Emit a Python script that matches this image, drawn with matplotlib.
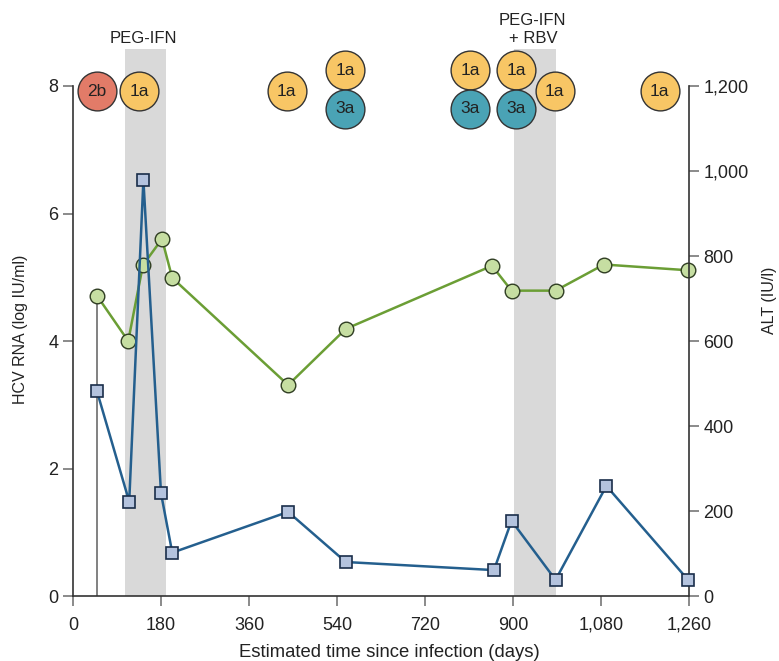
import matplotlib.pyplot as plt
from matplotlib.patches import Rectangle

plt.rcParams['font.family'] = ['Liberation Sans', 'DejaVu Sans']

# HCV RNA (log IU/ml), left axis
days_rna = [50, 113, 143, 182, 203, 440, 558, 857, 897, 987, 1086, 1257]
rna = [4.70, 4.00, 5.19, 5.60, 4.99, 3.31, 4.19, 5.18, 4.79, 4.79, 5.20, 5.11]

# ALT (IU/l), right axis
days_alt = [49, 115, 144, 180, 203, 440, 558, 861, 897, 987, 1091, 1258]
alt = [482, 222, 979, 242, 102, 198, 80, 61, 177, 38, 259, 38]

# treatment windows (days)
treat_start = [106, 901]
treat_end = [191, 988]
treat_names = ['PEG-IFN', 'PEG-IFN\n+ RBV']

# genotype bubbles: day, height on the RNA scale, label
geno_day = [48.5, 135, 437, 557, 557, 813, 813, 907, 907, 985, 1200]
geno_y = [7.92, 7.92, 7.92, 8.25, 7.64, 8.25, 7.64, 8.25, 7.64, 7.92, 7.92]
geno_lab = ['2b', '1a', '1a', '1a', '3a', '1a', '3a', '1a', '3a', '1a', '1a']
geno_col = {'1a': '#f8c665', '3a': '#4aa3b5', '2b': '#e27b68'}

fig = plt.figure(figsize=(7.79, 6.61), dpi=100)
ax = fig.add_axes([0.0937, 0.0983, 0.7908, 0.7716])
ax2 = ax.twinx()

ax.set_xlim(0, 1260)
ax.set_ylim(0, 8)
ax2.set_ylim(0, 1200)

for s, e in zip(treat_start, treat_end):
    ax.add_patch(Rectangle((s, 0), e - s, 8.58, facecolor='#d9d9d9',
                           edgecolor='none', clip_on=False, zorder=0))
for s, e, n in zip(treat_start, treat_end, treat_names):
    ax.text((s + e) / 2 - 4, 8.63, n, ha='center', va='bottom', fontsize=12,
            color='#222222', linespacing=1.2)

ax.vlines(days_rna[0], 0, rna[0], color='#777777', lw=1.3, zorder=1)

ax.plot(days_rna, rna, color='#6b9e35', lw=1.8, marker='o', ms=10.5,
        mfc='#c6dea2', mec='#2f3d22', mew=1.0, zorder=3, clip_on=False)
ax2.plot(days_alt, alt, color='#245f8e', lw=1.8, marker='s', ms=8.5,
         mfc='#b4c3de', mec='#1a2e4a', mew=1.2, zorder=3, clip_on=False)

for d, y, lab in zip(geno_day, geno_y, geno_lab):
    ax2.scatter([d], [y * 150], s=780, color=geno_col[lab], edgecolor='#333333',
                linewidth=1.0, clip_on=False, zorder=5)
    ax2.text(d, y * 150, lab, ha='center', va='center', fontsize=12.5,
             color='#222222', zorder=6, clip_on=False)

ticks_x = [0, 180, 360, 540, 720, 900, 1080, 1260]
ax.set_xticks(ticks_x)
ax.set_xticklabels(['0', '180', '360', '540', '720', '900', '1,080', '1,260'])
ax.set_yticks([0, 2, 4, 6, 8])
ax2.set_yticks([0, 200, 400, 600, 800, 1000, 1200])
ax2.set_yticklabels(['0', '200', '400', '600', '800', '1,000', '1,200'])

for a in (ax, ax2):
    a.spines['top'].set_visible(False)
    for sp in a.spines.values():
        sp.set_color('#333333')
        sp.set_linewidth(1.2)
    a.tick_params(direction='out', length=7, width=1.2, color='#777777',
                  labelsize=13, labelcolor='#222222')
ax.tick_params(axis='x', pad=8)
ax.spines['right'].set_visible(False)
ax2.spines['left'].set_visible(False)
ax2.spines['bottom'].set_visible(False)

ax.set_xlabel('Estimated time since infection (days)', fontsize=13.3, color='#222222', va='center')
ax.xaxis.set_label_coords(0.513, -0.11)
ax.set_ylabel('HCV RNA (log IU/ml)', fontsize=11.5, color='#222222', va='center')
ax.yaxis.set_label_coords(-0.086, 0.523)
ax2.set_ylabel('ALT (IU/l)', fontsize=11.5, color='#222222', va='center')
ax2.yaxis.set_label_coords(1.131, 0.58)

fig.savefig('out.png', dpi=100)
